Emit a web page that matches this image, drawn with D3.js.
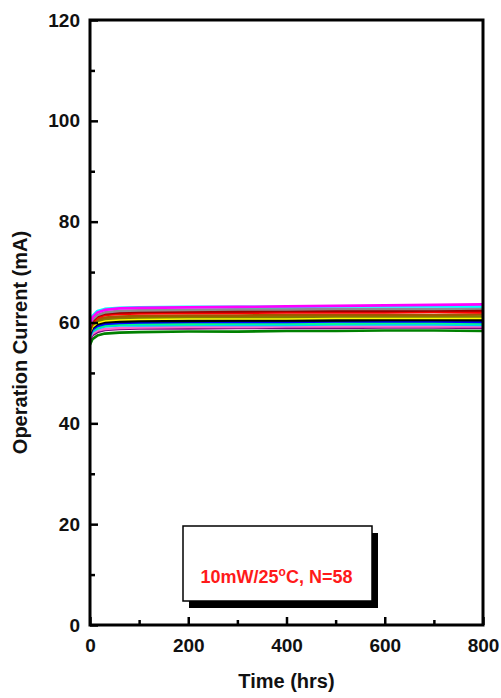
<!DOCTYPE html>
<html>
<head>
<meta charset="utf-8">
<script src="https://cdn.jsdelivr.net/npm/d3@7"></script>
<style>
  html, body { margin: 0; padding: 0; background: #fff; }
  svg { display: block; }
  text { font-family: "Liberation Sans", Arial, sans-serif; }
</style>
</head>
<body>
<svg id="chart" width="501" height="698"></svg>
<script>
// ---- data ----
const times = [0, 5, 15, 30, 60, 100, 200, 300, 400, 500, 600, 700, 800];

const seriesNames = ["magenta", "cyan", "gray", "darkred", "red", "brown", "olive", "yellow",
  "black", "navy", "blue", "springgreen", "skyblue", "pink", "purple", "green"];
const seriesColors = ["#ff00ff", "#00ffff", "#8c8c8c", "#990000", "#ff0000", "#a05a00", "#808000", "#ffff00",
  "#000000", "#000080", "#0000ff", "#00ff80", "#00c8ff", "#ff66cc", "#800080", "#008000"];

const sMagenta     = [59.6, 61.0, 62.0, 62.5, 62.8, 62.9, 63.0, 63.1, 63.2, 63.3, 63.4, 63.5, 63.6];
const sCyan        = [59.9, 61.3, 62.3, 62.7, 62.9, 63.0, 63.1, 63.1, 63.1, 63.2, 63.2, 63.2, 63.2];
const sGray        = [59.2, 60.6, 61.5, 62.0, 62.3, 62.4, 62.5, 62.6, 62.6, 62.7, 62.7, 62.7, 62.8];
const sDarkRed     = [59.0, 60.3, 61.3, 61.8, 62.0, 62.1, 62.2, 62.2, 62.3, 62.3, 62.3, 62.4, 62.4];
const sRed         = [58.8, 60.0, 61.0, 61.5, 61.7, 61.8, 61.9, 61.9, 62.0, 62.0, 62.0, 62.1, 62.0];
const sBrown       = [58.6, 59.8, 60.6, 61.0, 61.2, 61.3, 61.4, 61.4, 61.5, 61.5, 61.5, 61.5, 61.6];
const sOlive       = [58.4, 59.5, 60.3, 60.7, 60.9, 61.0, 61.1, 61.1, 61.1, 61.2, 61.2, 61.2, 61.2];
const sYellow      = [58.2, 59.2, 60.0, 60.4, 60.6, 60.7, 60.8, 60.8, 60.8, 60.9, 60.9, 60.9, 60.9];
const sBlack       = [58.0, 59.0, 59.7, 60.1, 60.2, 60.3, 60.3, 60.4, 60.4, 60.4, 60.5, 60.5, 60.5];
const sNavy        = [57.8, 58.9, 59.6, 60.0, 60.2, 60.3, 60.4, 60.4, 60.4, 60.5, 60.5, 60.5, 60.4];
const sBlue        = [57.6, 58.6, 59.3, 59.7, 59.9, 60.0, 60.1, 60.1, 60.1, 60.2, 60.2, 60.2, 60.1];
const sSpringGreen = [57.4, 58.4, 59.0, 59.4, 59.6, 59.7, 59.7, 59.8, 59.8, 59.8, 59.9, 59.9, 59.8];
const sSkyBlue     = [57.2, 58.2, 58.8, 59.2, 59.4, 59.4, 59.5, 59.5, 59.5, 59.6, 59.6, 59.6, 59.5];
const sPink        = [57.0, 57.8, 58.4, 58.7, 58.9, 59.0, 59.1, 59.1, 59.2, 59.2, 59.2, 59.2, 59.2];
const sPurple      = [56.6, 57.5, 58.1, 58.5, 58.7, 58.8, 58.8, 58.9, 58.9, 58.9, 59.0, 59.0, 58.9];
const sGreen       = [55.6, 56.7, 57.4, 57.8, 58.0, 58.1, 58.2, 58.2, 58.3, 58.3, 58.4, 58.4, 58.3];

const seriesValues = [sMagenta, sCyan, sGray, sDarkRed, sRed, sBrown, sOlive, sYellow,
  sBlack, sNavy, sBlue, sSpringGreen, sSkyBlue, sPink, sPurple, sGreen];

const xTicks = [0, 200, 400, 600, 800];
const xMinorTicks = [100, 300, 500, 700];
const yTicks = [0, 20, 40, 60, 80, 100, 120];
const yMinorTicks = [10, 30, 50, 70, 90, 110];

const xLabel = "Time (hrs)";
const yLabel = "Operation Current (mA)";
const noteMain = "10mW/25";
const noteSup = "o";
const noteTail = "C, N=58";

// ---- layout ----
const svg = d3.select("#chart");
const L = 90, R = 483, T = 20, B = 625;

const x = d3.scaleLinear().domain([0, 800]).range([L, R]);
const y = d3.scaleLinear().domain([0, 120]).range([B, T]);

// data lines
svg.append("clipPath").attr("id", "clip")
  .append("rect").attr("x", L).attr("y", T).attr("width", R - L).attr("height", B - T);

const line = d3.line().x(d => x(d[0])).y(d => y(d[1]));
const gLines = svg.append("g").attr("clip-path", "url(#clip)");
seriesValues.slice().reverse().forEach((vals, i) => {
  const idx = seriesValues.length - 1 - i;
  gLines.append("path")
    .datum(times.map((t, k) => [t, vals[k]]))
    .attr("d", line)
    .attr("fill", "none")
    .attr("stroke", seriesColors[idx])
    .attr("stroke-width", 2.6)
    .attr("stroke-linejoin", "round");
});

// frame
svg.append("rect")
  .attr("x", L).attr("y", T).attr("width", R - L).attr("height", B - T)
  .attr("fill", "none").attr("stroke", "#000").attr("stroke-width", 3);

// axes with inward ticks
const axisStyle = g => {
  g.select(".domain").remove();
  g.selectAll(".tick line").attr("stroke", "#000").attr("stroke-width", 2.5);
  g.selectAll(".tick text").attr("fill", "#111")
    .attr("font-size", 19).attr("font-weight", "bold")
    .attr("font-family", "'Liberation Sans', Arial, sans-serif");
};

svg.append("g").attr("transform", `translate(0,${B})`)
  .call(d3.axisBottom(x).tickValues(xTicks).tickSize(-8).tickPadding(14).tickFormat(d3.format("d")))
  .call(axisStyle);
svg.append("g").attr("transform", `translate(0,${B})`)
  .call(d3.axisBottom(x).tickValues(xMinorTicks).tickSize(-5).tickFormat(""))
  .call(axisStyle);

svg.append("g").attr("transform", `translate(${L},0)`)
  .call(d3.axisLeft(y).tickValues(yTicks).tickSize(-8).tickPadding(10).tickFormat(d3.format("d")))
  .call(axisStyle);
svg.append("g").attr("transform", `translate(${L},0)`)
  .call(d3.axisLeft(y).tickValues(yMinorTicks).tickSize(-5).tickFormat(""))
  .call(axisStyle);

// axis labels
svg.append("text")
  .attr("x", (L + R) / 2).attr("y", 688)
  .attr("text-anchor", "middle")
  .attr("font-size", 20).attr("font-weight", "bold").attr("fill", "#111")
  .text(xLabel);

svg.append("text")
  .attr("transform", `translate(27,${(T + B) / 2 + 20}) rotate(-90)`)
  .attr("text-anchor", "middle")
  .attr("font-size", 20).attr("font-weight", "bold").attr("fill", "#111")
  .text(yLabel);

// annotation box with shadow
const bx = 183, by = 526, bw = 189, bh = 75;
svg.append("rect").attr("x", bx + 6).attr("y", by + 7).attr("width", bw).attr("height", bh).attr("fill", "#000");
svg.append("rect").attr("x", bx).attr("y", by).attr("width", bw).attr("height", bh)
  .attr("fill", "#fff").attr("stroke", "#000").attr("stroke-width", 1.5);
const note = svg.append("text")
  .attr("x", bx + bw / 2 - 1).attr("y", 583)
  .attr("text-anchor", "middle")
  .attr("font-size", 18).attr("font-weight", "bold").attr("fill", "#ff1a1a");
note.append("tspan").text(noteMain);
note.append("tspan").attr("dy", -7).attr("font-size", 12).text(noteSup);
note.append("tspan").attr("dy", 7).text(noteTail);
</script>
</body>
</html>
